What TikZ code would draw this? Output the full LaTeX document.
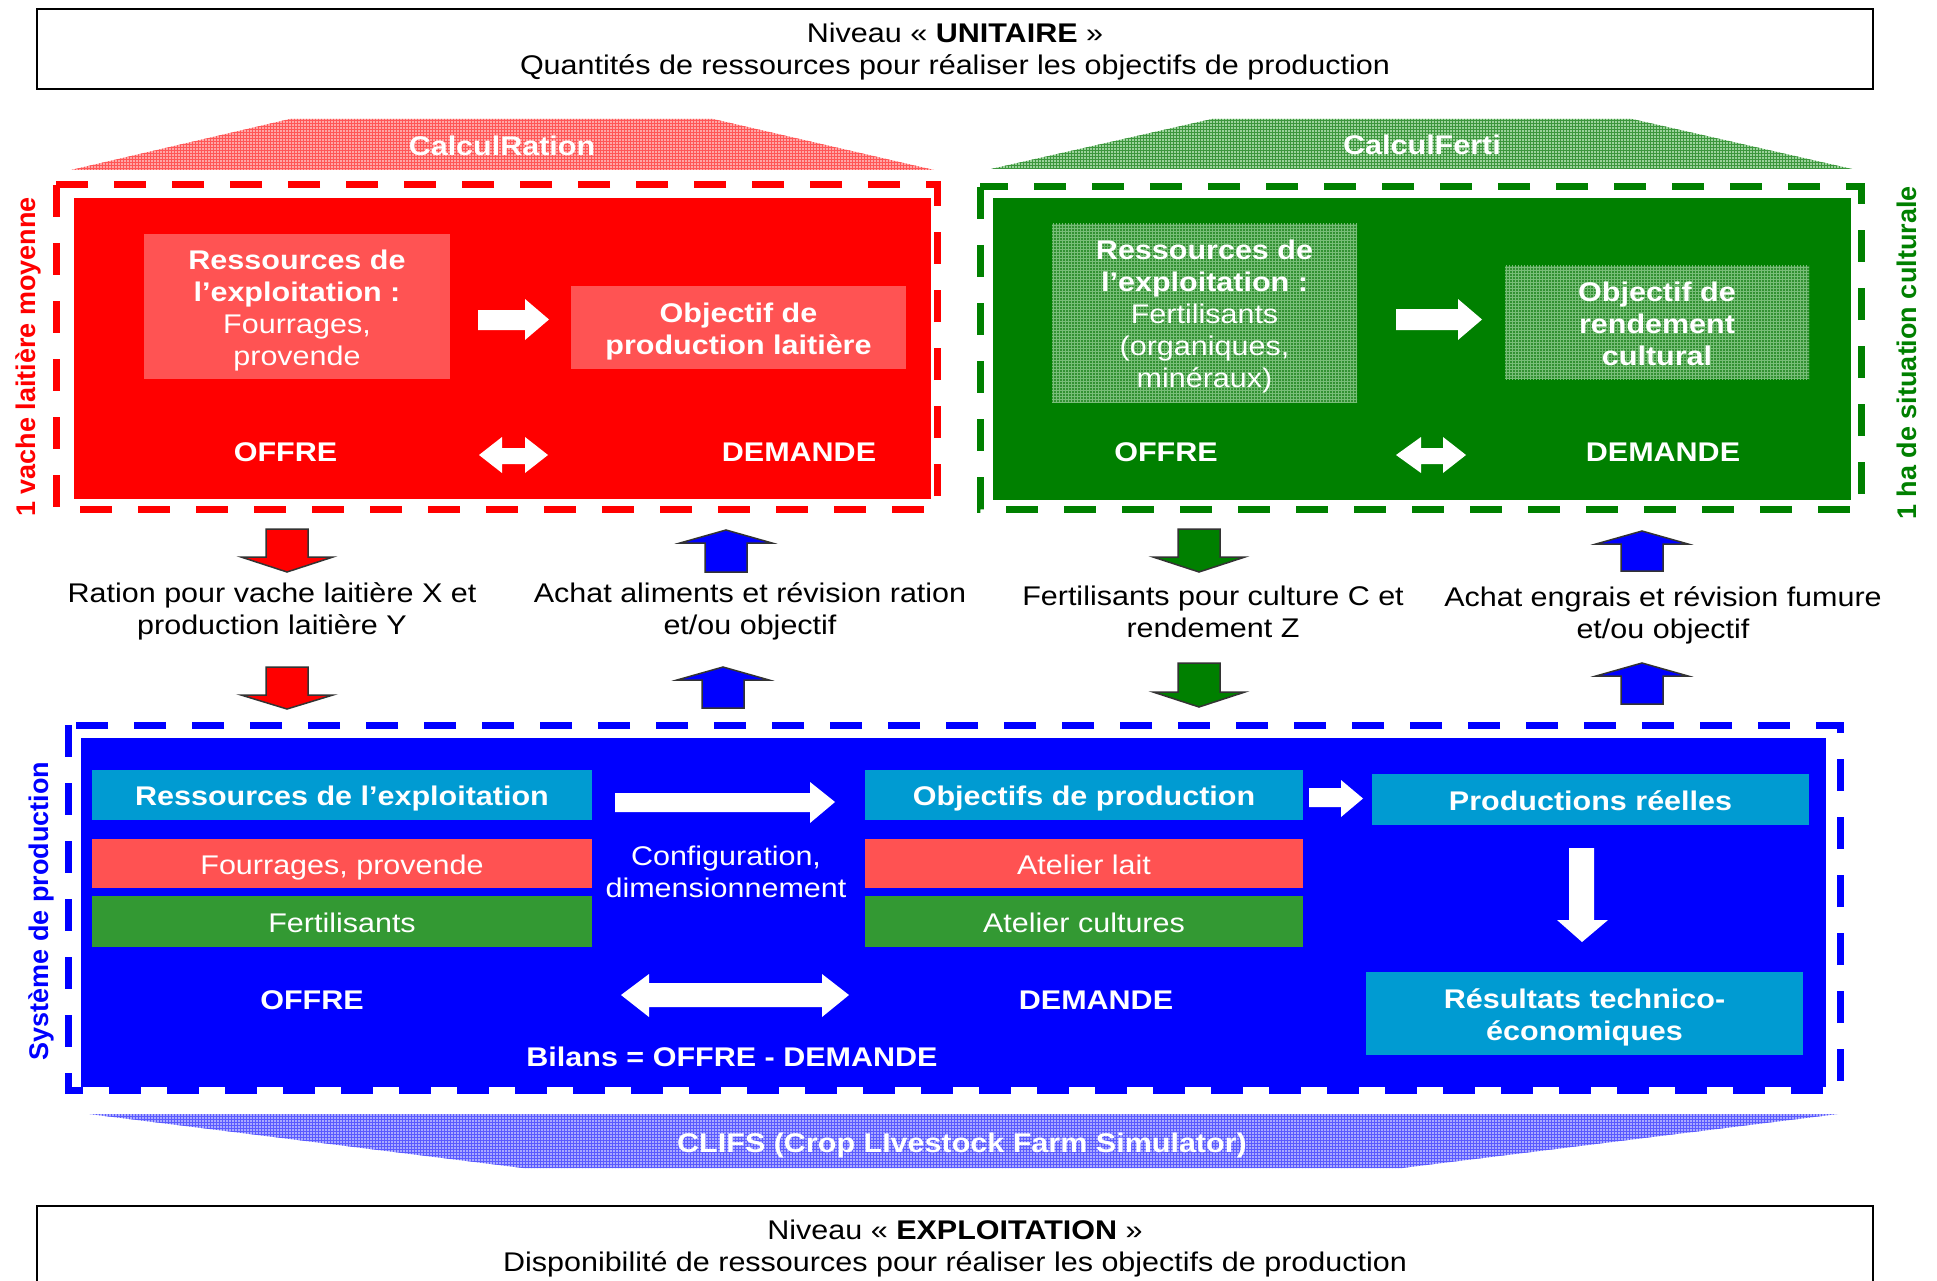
\documentclass[tikz,border=0pt]{standalone}
\usepackage{fontspec}
\setmainfont{Liberation Sans}[FakeStretch=1.13]
\newfontfamily\vfont{Liberation Sans}
\usetikzlibrary{patterns}
\definecolor{cRed}{RGB}{255,0,0}
\definecolor{cRedL}{RGB}{255,83,83}
\definecolor{cGreen}{RGB}{0,128,0}
\definecolor{cGreenL}{RGB}{50,145,50}
\definecolor{cGreenG}{RGB}{120,190,120}
\definecolor{cBlue}{RGB}{0,0,255}
\definecolor{cCyan}{RGB}{0,155,210}
\definecolor{cBarR}{RGB}{255,82,82}
\definecolor{cBarG}{RGB}{51,153,51}
\definecolor{cTrapR}{RGB}{255,165,165}
\definecolor{cTrapRG}{RGB}{255,85,85}
\definecolor{cTrapG}{RGB}{155,210,155}
\definecolor{cTrapGG}{RGB}{60,150,60}
\definecolor{cTrapB}{RGB}{170,170,255}
\definecolor{cTrapBG}{RGB}{90,90,255}
\newcommand\myfs{\fontsize{27}{32}\selectfont}
\tikzset{
  frame/.style={draw=black, line width=2pt, fill=white},
  dashframe/.style={line width=7pt, dash pattern=on 32pt off 26pt},
  blk/.style={inner sep=0pt, outer sep=0pt, align=center, text=white, font=\myfs\bfseries, text depth=5.7pt, yshift=-4pt},
  blkn/.style={inner sep=0pt, outer sep=0pt, align=center, text=white, font=\myfs, text depth=5.7pt, yshift=-4pt},
  lbl/.style={inner sep=0pt, align=center, text=white, font=\myfs\bfseries, text depth=5.7pt, yshift=-3pt},
  mid/.style={inner sep=0pt, align=center, text=black, font=\myfs, text depth=5.7pt, yshift=-3pt},
  side/.style={inner sep=0pt, rotate=90, font=\vfont\fontsize{27}{32}\selectfont\bfseries},
  warrow/.style={fill=white, draw=none},
  barrow/.style={draw=black!80, line width=1.5pt, line join=miter},
}
\begin{document}
\begin{tikzpicture}[x=1pt,y=-1pt]
\useasboundingbox (0,0) rectangle (1937,1281);
\fill[white] (0,0) rectangle (1937,1281);

% ---------- top and bottom level boxes
\draw[frame] (37,9) rectangle (1873,89);
\node[inner sep=0pt, align=center, font=\myfs, yshift=-3pt] (unit) at (955,49)
  {Niveau « \textbf{UNITAIRE} »\\Quantités de ressources pour réaliser les objectifs de production};
\begin{scope}
  \clip (0,0) rectangle (1937,1281);
  \draw[frame] (37,1206) rectangle (1873,1300);
\end{scope}
\node[inner sep=0pt, align=center, font=\myfs, yshift=-3pt] (expl) at (955,1246)
  {Niveau « \textbf{EXPLOITATION} »\\Disponibilité de ressources pour réaliser les objectifs de production};

% ---------- CalculRation (red)
\fill[cTrapR] (290,119) -- (713,119) -- (934,170) -- (71,170) -- cycle;
\fill[pattern=grid, pattern color=cTrapRG] (290,119) -- (713,119) -- (934,170) -- (71,170) -- cycle;
\node[lbl] (calcr) at (502,146) {CalculRation};
\fill[cRed] (74,198) rectangle (931,499);
\draw[dashframe, cRed] (56,185) rectangle (937,509);
\fill[cRedL] (144,234) rectangle (450,379);
\node[blk] (rres) at (297,306.5)
  {Ressources de\\l’exploitation :\\\mdseries Fourrages,\\\mdseries provende};
\fill[cRedL] (571,286) rectangle (906,369);
\node[blk] (robj) at (738.5,327.5) {Objectif de\\production laitière};
\path[warrow] (478,310) -- (525,310) -- (525,299) -- (549,319.5) -- (525,340) -- (525,330) -- (478,330) -- cycle;
\node[lbl] (roffre) at (285.5,452) {OFFRE};
\node[lbl] (rdem) at (799,452) {DEMANDE};
\path[warrow] (479,455) -- (502,437) -- (502,448) -- (525,448) -- (525,437) -- (548,455) -- (525,473) -- (525,464) -- (502,464) -- (502,473) -- cycle;
\node[side, text=cRed] (rside) at (28,357) {1 vache laitière moyenne};

% ---------- CalculFerti (green)
\fill[cTrapG] (1212,119) -- (1632,119) -- (1852,169) -- (991,169) -- cycle;
\fill[pattern=grid, pattern color=cTrapGG] (1212,119) -- (1632,119) -- (1852,169) -- (991,169) -- cycle;
\node[lbl] (calcf) at (1422,145) {CalculFerti};
\fill[cGreen] (993,198) rectangle (1851,500);
\draw[dashframe, cGreen] (980,187) rectangle (1861,509);
\fill[cGreenL] (1052,224) rectangle (1357,402);
\fill[pattern=grid, pattern color=cGreenG] (1052,224) rectangle (1357,402);
\node[blkn] (gres) at (1204.5,313)
  {\textbf{Ressources de}\\\textbf{l’exploitation :}\\Fertilisants\\(organiques,\\minéraux)};
\fill[cGreenL] (1505,266) rectangle (1809,379);
\fill[pattern=grid, pattern color=cGreenG] (1505,266) rectangle (1809,379);
\node[blk] (gobj) at (1657,322.5) {Objectif de\\rendement\\cultural};
\path[warrow] (1396,309) -- (1458,309) -- (1458,299) -- (1482,319.5) -- (1458,340) -- (1458,330) -- (1396,330) -- cycle;
\node[lbl] (goffre) at (1166,452) {OFFRE};
\node[lbl] (gdem) at (1663,452) {DEMANDE};
\path[warrow] (1396,455) -- (1421,437) -- (1421,448) -- (1443,448) -- (1443,437) -- (1466,455) -- (1443,473) -- (1443,464) -- (1421,464) -- (1421,473) -- cycle;
\node[side, text=cGreen] (gside) at (1907,353) {1 ha de situation culturale};

% ---------- middle exchange arrows and labels
\draw[barrow, fill=cRed] (266,529) -- (308,529) -- (308,557) -- (333,557) -- (287,572) -- (241,557) -- (266,557) -- cycle;
\draw[barrow, fill=cRed] (266,667) -- (308,667) -- (308,695) -- (333,695) -- (287,709) -- (241,695) -- (266,695) -- cycle;
\node[mid] (tration) at (272,608) {Ration pour vache laitière X et\\production laitière Y};

\draw[barrow, fill=cBlue] (705,572) -- (747,572) -- (747,543) -- (772,543) -- (726,530) -- (680,543) -- (705,543) -- cycle;
\draw[barrow, fill=cBlue] (702,708) -- (744,708) -- (744,680) -- (769,680) -- (723,667) -- (677,680) -- (702,680) -- cycle;
\node[mid] (tachal) at (750,608) {Achat aliments et révision ration\\et/ou objectif};

\draw[barrow, fill=cGreen] (1178,529) -- (1220,529) -- (1220,557) -- (1245,557) -- (1199,572) -- (1153,557) -- (1178,557) -- cycle;
\draw[barrow, fill=cGreen] (1178,663) -- (1220,663) -- (1220,692) -- (1245,692) -- (1199,707) -- (1153,692) -- (1178,692) -- cycle;
\node[mid] (tfert) at (1213,612) {Fertilisants pour culture C et\\rendement Z};

\draw[barrow, fill=cBlue] (1621,571) -- (1663,571) -- (1663,544) -- (1688,544) -- (1642,531) -- (1596,544) -- (1621,544) -- cycle;
\draw[barrow, fill=cBlue] (1621,704) -- (1663,704) -- (1663,676) -- (1688,676) -- (1642,663) -- (1596,676) -- (1621,676) -- cycle;
\node[mid] (tachen) at (1663,612) {Achat engrais et révision fumure\\et/ou objectif};

% ---------- CLIFS (blue)
\fill[cBlue] (81,738) rectangle (1826,1087);
\draw[dashframe, cBlue] (68,725) rectangle (1840,1090);
\fill[cCyan] (92,770) rectangle (592,820);
\node[blk] (bres) at (342,795) {Ressources de l’exploitation};
\fill[cBarR] (92,839) rectangle (592,888);
\node[blkn] (bfour) at (342,863.5) {Fourrages, provende};
\fill[cBarG] (92,896) rectangle (592,947);
\node[blkn] (bfert) at (342,921.5) {Fertilisants};
\path[warrow] (615,793) -- (810,793) -- (810,782) -- (835,802) -- (810,823) -- (810,812) -- (615,812) -- cycle;
\node[blkn] (config) at (726,871) {Configuration,\\dimensionnement};
\fill[cCyan] (865,770) rectangle (1303,820);
\node[blk] (bobj) at (1084,795) {Objectifs de production};
\fill[cBarR] (865,839) rectangle (1303,888);
\node[blkn] (blait) at (1084,863.5) {Atelier lait};
\fill[cBarG] (865,896) rectangle (1303,947);
\node[blkn] (bcult) at (1084,921.5) {Atelier cultures};
\path[warrow] (1309,788) -- (1341,788) -- (1341,780) -- (1363,798.5) -- (1341,817) -- (1341,807) -- (1309,807) -- cycle;
\fill[cCyan] (1372,774) rectangle (1809,825);
\node[blk] (bprod) at (1590.5,799.5) {Productions réelles};
\path[warrow] (1569,848) -- (1594,848) -- (1594,920) -- (1608,920) -- (1582,942) -- (1557,920) -- (1569,920) -- cycle;
\fill[cCyan] (1366,972) rectangle (1803,1055);
\node[blk] (bresu) at (1584.5,1013.5) {Résultats technico-\\économiques};
\node[lbl] (boffre) at (312,1000) {OFFRE};
\node[lbl] (bdem) at (1096,1000) {DEMANDE};
\path[warrow] (621,995) -- (649,974) -- (649,983) -- (822,983) -- (822,974) -- (849,995) -- (822,1017) -- (822,1007) -- (649,1007) -- (649,1017) -- cycle;
\node[lbl] (bilan) at (732,1057) {Bilans = OFFRE - DEMANDE};
\node[side, text=cBlue] (bside) at (41,911) {Système de production};

\fill[cTrapB] (89,1114) -- (1838,1114) -- (1402,1168) -- (523,1168) -- cycle;
\fill[pattern=grid, pattern color=cTrapBG] (89,1114) -- (1838,1114) -- (1402,1168) -- (523,1168) -- cycle;
\node[lbl] (clifs) at (962,1143) {CLIFS (Crop LIvestock Farm Simulator)};
\end{tikzpicture}
\end{document}
